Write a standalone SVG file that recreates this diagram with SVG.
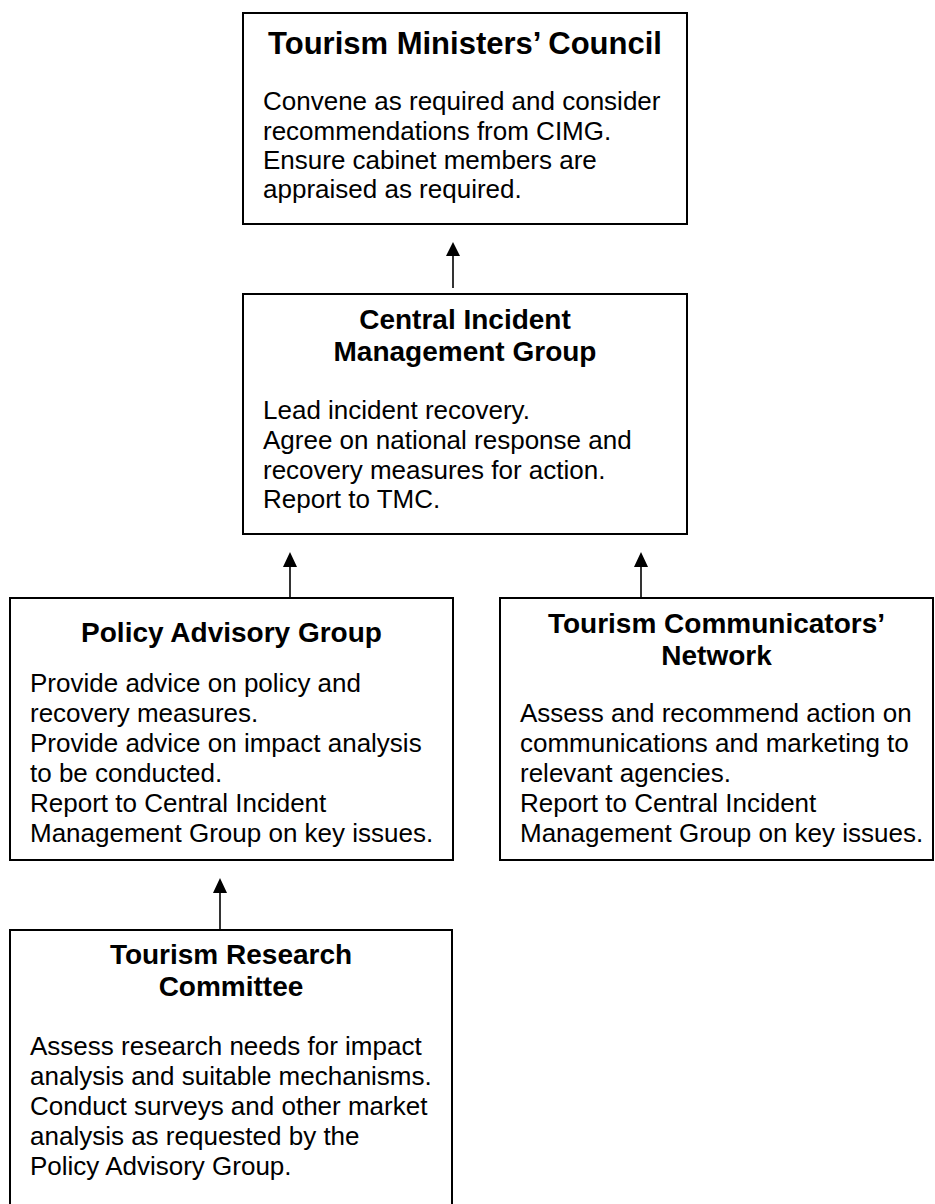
<svg xmlns="http://www.w3.org/2000/svg" width="935" height="1204" viewBox="0 0 935 1204">
<defs>
<style>
.box{fill:#fff;stroke:#000;stroke-width:2}
.t{font-family:"Liberation Sans",Arial,sans-serif;font-weight:bold;font-size:28px;text-anchor:middle;fill:#000}
.t1{font-size:31px}
.b{font-family:"Liberation Sans",Arial,sans-serif;font-size:26px;fill:#000}
.c{stroke:#000;stroke-width:1.6;fill:none}
</style>
<marker id="ah" markerWidth="14" markerHeight="15" refX="7" refY="0" orient="auto-start-reverse" markerUnits="userSpaceOnUse" viewBox="0 0 14 15">
<path d="M0,15 L7,0 L14,15 Z" fill="#000"/>
</marker>
</defs>
<rect width="935" height="1204" fill="#fff"/>
<g id="connectors">
<line class="c" x1="453" y1="288" x2="453" y2="256"/><path d="M446,256 L453,242 L460,256 Z"/>
<line class="c" x1="290" y1="598" x2="290" y2="566"/><path d="M283,567 L290,552 L297,567 Z"/>
<line class="c" x1="641" y1="598" x2="641" y2="566"/><path d="M634,567 L641,552 L648,567 Z"/>
<line class="c" x1="220" y1="930" x2="220" y2="892"/><path d="M213,893 L220,878 L227,893 Z"/>
</g>
<g id="tmc">
<rect class="box" x="243" y="13" width="444" height="211"/>
<text class="t t1" x="465" y="54">Tourism Ministers’ Council</text>
<text class="b" x="263" y="110">Convene as required and consider</text>
<text class="b" x="263" y="139.5">recommendations from CIMG.</text>
<text class="b" x="263" y="169">Ensure cabinet members are</text>
<text class="b" x="263" y="198">appraised as required.</text>
</g>
<g id="cimg">
<rect class="box" x="243" y="294" width="444" height="240"/>
<text class="t" x="465" y="329">Central Incident</text>
<text class="t" x="465" y="361">Management Group</text>
<text class="b" x="263" y="419">Lead incident recovery.</text>
<text class="b" x="263" y="449">Agree on national response and</text>
<text class="b" x="263" y="479">recovery measures for action.</text>
<text class="b" x="263" y="508">Report to TMC.</text>
</g>
<g id="pag">
<rect class="box" x="10" y="598" width="443" height="262"/>
<text class="t" x="231.5" y="642">Policy Advisory Group</text>
<text class="b" x="30" y="692">Provide advice on policy and</text>
<text class="b" x="30" y="722">recovery measures.</text>
<text class="b" x="30" y="752">Provide advice on impact analysis</text>
<text class="b" x="30" y="782">to be conducted.</text>
<text class="b" x="30" y="812">Report to Central Incident</text>
<text class="b" x="30" y="842">Management Group on key issues.</text>
</g>
<g id="tcn">
<rect class="box" x="500" y="598" width="433" height="262"/>
<text class="t" x="716.5" y="633">Tourism Communicators’</text>
<text class="t" x="716.5" y="665">Network</text>
<text class="b" x="520" y="722">Assess and recommend action on</text>
<text class="b" x="520" y="752">communications and marketing to</text>
<text class="b" x="520" y="782">relevant agencies.</text>
<text class="b" x="520" y="812">Report to Central Incident</text>
<text class="b" x="520" y="842">Management Group on key issues.</text>
</g>
<g id="trc">
<rect class="box" x="10" y="930" width="442" height="290"/>
<text class="t" x="231" y="964">Tourism Research</text>
<text class="t" x="231" y="996">Committee</text>
<text class="b" x="30" y="1055">Assess research needs for impact</text>
<text class="b" x="30" y="1085">analysis and suitable mechanisms.</text>
<text class="b" x="30" y="1115">Conduct surveys and other market</text>
<text class="b" x="30" y="1145">analysis as requested by the</text>
<text class="b" x="30" y="1175">Policy Advisory Group.</text>
</g>
</svg>
